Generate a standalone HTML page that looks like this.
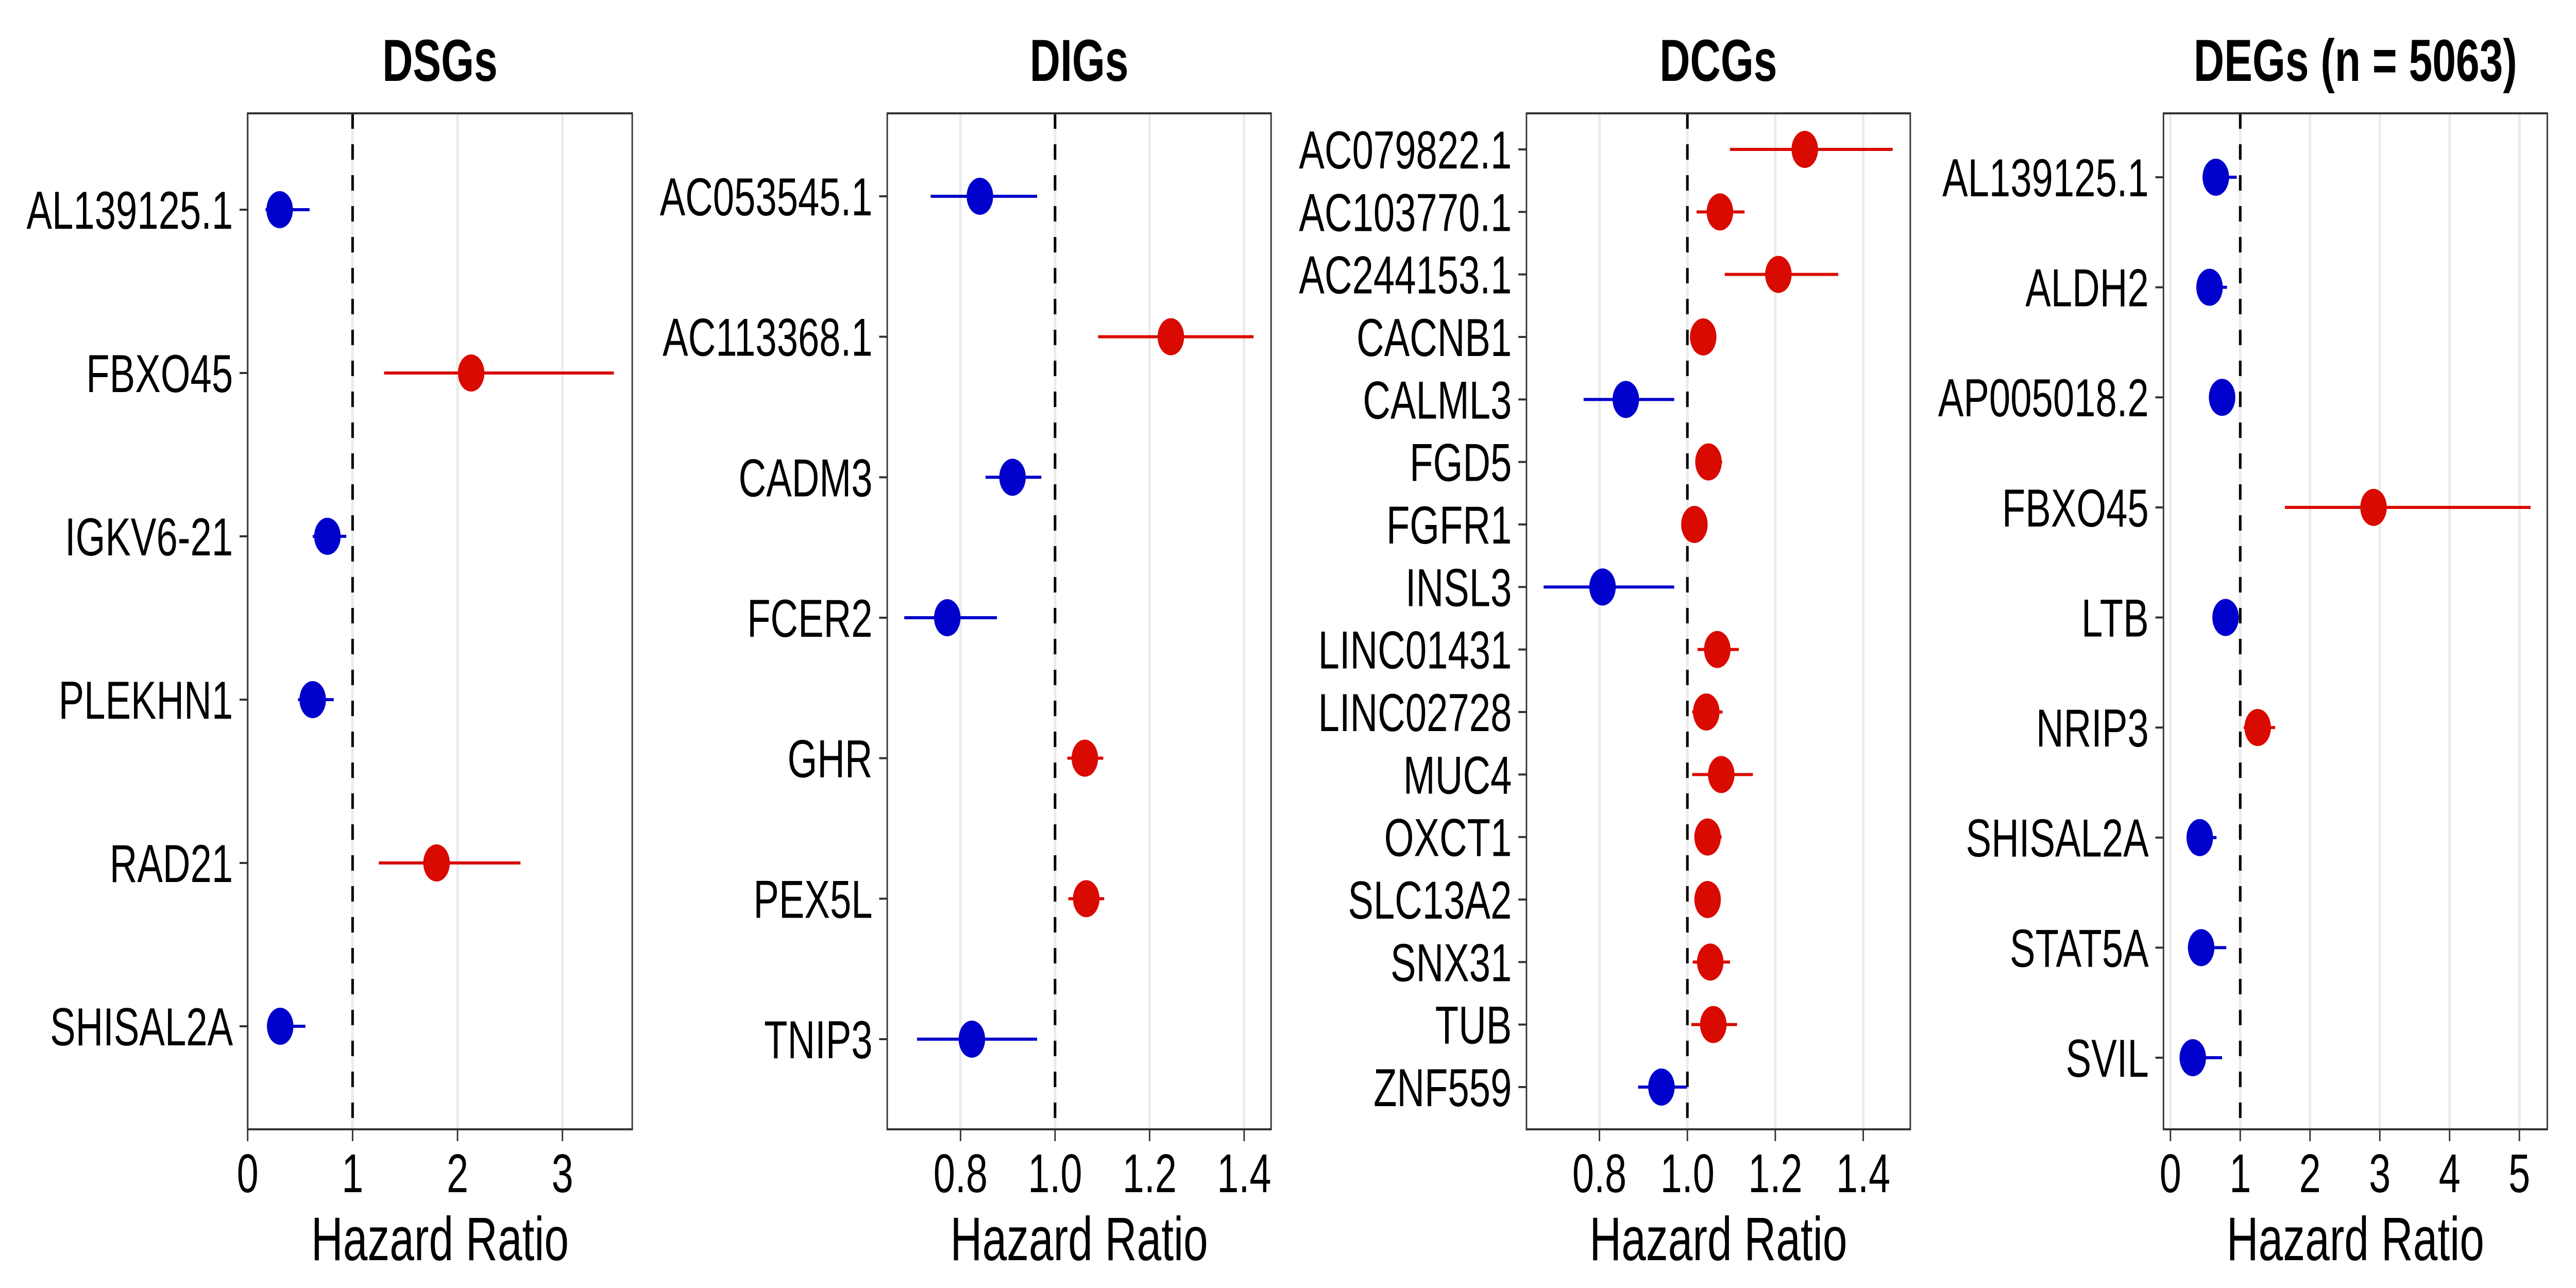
<!DOCTYPE html>
<html><head><meta charset="utf-8"><style>
html,body{margin:0;padding:0;background:#fff;overflow:hidden;width:100%;height:100%;}
svg{display:block;width:100vw;height:100vh;font-family:"Liberation Sans",Arial,sans-serif;}
</style></head><body>
<svg id="chart" viewBox="0 0 7000 2500" preserveAspectRatio="none" xmlns="http://www.w3.org/2000/svg"></svg>
<script>
// ---- DSGs ----
const dsgGenes = ["AL139125.1","FBXO45","IGKV6-21","PLEKHN1","RAD21","SHISAL2A"];
const dsgHR = [0.305, 2.13, 0.76, 0.62, 1.80, 0.31];
const dsgLo = [0.17, 1.30, 0.62, 0.48, 1.25, 0.19];
const dsgHi = [0.59, 3.49, 0.94, 0.82, 2.60, 0.55];
const dsgTicks = ["0","1","2","3"];
// ---- DIGs ----
const digGenes = ["AC053545.1","AC113368.1","CADM3","FCER2","GHR","PEX5L","TNIP3"];
const digHR = [0.841, 1.245, 0.910, 0.772, 1.063, 1.066, 0.824];
const digLo = [0.737, 1.091, 0.853, 0.681, 1.026, 1.028, 0.708];
const digHi = [0.962, 1.420, 0.971, 0.877, 1.102, 1.104, 0.962];
const digTicks = ["0.8","1.0","1.2","1.4"];
// ---- DCGs ----
const dcgGenes = ["AC079822.1","AC103770.1","AC244153.1","CACNB1","CALML3","FGD5","FGFR1","INSL3","LINC01431","LINC02728","MUC4","OXCT1","SLC13A2","SNX31","TUB","ZNF559"];
const dcgHR = [1.267,1.074,1.207,1.036,0.860,1.048,1.016,0.807,1.068,1.043,1.077,1.046,1.046,1.052,1.059,0.941];
const dcgLo = [1.097,1.021,1.085,1.025,0.764,1.035,1.005,0.673,1.023,1.011,1.011,1.016,1.035,1.012,1.009,0.888];
const dcgHi = [1.467,1.130,1.343,1.045,0.970,1.079,1.025,0.970,1.117,1.080,1.149,1.078,1.057,1.097,1.113,0.999];
const dcgTicks = ["0.8","1.0","1.2","1.4"];
// ---- DEGs ----
const degGenes = ["AL139125.1","ALDH2","AP005018.2","FBXO45","LTB","NRIP3","SHISAL2A","STAT5A","SVIL"];
const degHR = [0.65,0.56,0.74,2.91,0.79,1.25,0.42,0.44,0.32];
const degLo = [0.46,0.45,0.65,1.64,0.70,1.05,0.30,0.25,0.20];
const degHi = [0.95,0.81,0.85,5.16,0.90,1.50,0.66,0.80,0.74];
const degTicks = ["0","1","2","3","4","5"];

const NS="http://www.w3.org/2000/svg";
const svg=document.getElementById('chart');
function mk(tag,attrs,parent){const e=document.createElementNS(NS,tag);for(const k in attrs)e.setAttribute(k,attrs[k]);(parent||svg).appendChild(e);return e;}
const TOP=220,BOT=2192;
const BLUE="#0000cc",RED="#d90a00";

function panel(key,title,genes,hr,lo,hi,ticks,box,dom,rowTop,rowBot){
  const g=mk('g',{});
  
  
  const [L,R]=box,[d0,d1]=dom;
  const x=v=>L+(v-d0)/(d1-d0)*(R-L);
  const n=genes.length;
  const y=i=>n===1?rowTop:rowTop+i*(rowBot-rowTop)/(n-1);
  const t=mk('text',{x:(L+R)/2,y:157,'text-anchor':'middle','font-size':115,'font-weight':'bold',fill:'#000'},g);
  t.textContent=title;
  
  
  ticks.forEach(tk=>{const v=parseFloat(tk);
    const gl=mk('line',{x1:x(v),x2:x(v),y1:TOP,y2:BOT,stroke:'#ebebeb','stroke-width':7},g);
    
    
  });
  const rl=mk('line',{x1:x(1),x2:x(1),y1:TOP,y2:BOT,stroke:'#000','stroke-width':7,'stroke-dasharray':'30 30'},g);
  
  
  genes.forEach((gn,i)=>{
    const col=hr[i]>1?RED:BLUE;
    const eb=mk('line',{x1:x(lo[i]),x2:x(hi[i]),y1:y(i),y2:y(i),stroke:col,'stroke-width':6},g);
    
    
    const c=mk('circle',{cx:x(hr[i]),cy:y(i),r:36,fill:col},g);
    
    
    const tkm=mk('line',{x1:L-22,x2:L,y1:y(i),y2:y(i),stroke:'#333','stroke-width':4},g);
    
    
    const lb=mk('text',{x:L-40,y:y(i)+37,'text-anchor':'end','font-size':104,fill:'#000'},g);
    lb.textContent=gn;
    
    
  });
  const bx=mk('rect',{x:L,y:TOP,width:R-L,height:BOT-TOP,fill:'none',stroke:'#333','stroke-width':4},g);
  
  
  ticks.forEach(tk=>{const v=parseFloat(tk);
    const tm=mk('line',{x1:x(v),x2:x(v),y1:BOT,y2:BOT+23,stroke:'#333','stroke-width':4},g);
    
    
    const tl=mk('text',{x:x(v),y:2314,'text-anchor':'middle','font-size':106,fill:'#000'},g);
    tl.textContent=tk;
    
    
  });
  const at=mk('text',{x:(L+R)/2,y:2446,'text-anchor':'middle','font-size':120,fill:'#000'},g);
  at.textContent='Hazard Ratio';
  
  
}
panel('dsgs','DSGs',dsgGenes,dsgHR,dsgLo,dsgHi,dsgTicks,[673,1718],[0,3.665],407,1992);
panel('digs','DIGs',digGenes,digHR,digLo,digHi,digTicks,[2411,3454],[0.645,1.457],381,2017);
panel('dcgs','DCGs',dcgGenes,dcgHR,dcgLo,dcgHi,dcgTicks,[4148,5191],[0.634,1.507],290,2110);
panel('degs','DEGs (n = 5063)',degGenes,degHR,degLo,degHi,degTicks,[5879,6922],[-0.1,5.40],344,2053);
</script>
</body></html>
